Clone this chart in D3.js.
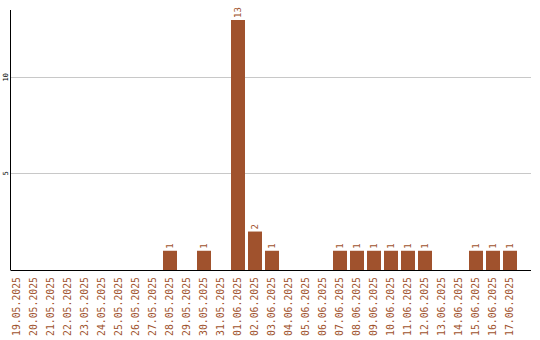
<!DOCTYPE html>
<html>
<head>
<meta charset="utf-8">
<script src="https://cdn.jsdelivr.net/npm/d3@7"></script>
<style>
  body { margin: 0; background: #fff; }
  svg { display: block; }
</style>
</head>
<body>
<svg id="chart"></svg>
<script>
const dates = ["19.05.2025", "20.05.2025", "21.05.2025", "22.05.2025", "23.05.2025",
    "24.05.2025", "25.05.2025", "26.05.2025", "27.05.2025", "28.05.2025",
    "29.05.2025", "30.05.2025", "31.05.2025", "01.06.2025", "02.06.2025",
    "03.06.2025", "04.06.2025", "05.06.2025", "06.06.2025", "07.06.2025",
    "08.06.2025", "09.06.2025", "10.06.2025", "11.06.2025", "12.06.2025",
    "13.06.2025", "14.06.2025", "15.06.2025", "16.06.2025", "17.06.2025"];
const counts = [0, 0, 0, 0, 0, 0, 0, 0, 0, 1,
    0, 1, 0, 13, 2, 1, 0, 0, 0, 1,
    1, 1, 1, 1, 1, 0, 0, 1, 1, 1];
const yTicks = [5, 10];

function drawChart() {
    const width = 540;
    const height = 340;
    const left = 10.5, right = 531, top = 10, bottom = 270;
    const color = "#a0522d";
    const font = "'DejaVu Sans Mono', monospace";

    const data = dates.map((d, i) => ({ date: d, value: counts[i] }));

    const x = d3.scaleBand()
        .domain(dates)
        .range([8.5, 518.5])
        .paddingInner(3 / 17)
        .paddingOuter(1.5 / 17);

    const y = d3.scaleLinear()
        .domain([0, d3.max(counts) * 1.04])
        .range([bottom, top]);

    const svg = d3.select("#chart")
        .attr("width", width)
        .attr("height", height);

    // grid
    svg.append("g")
        .selectAll("line")
        .data(yTicks)
        .join("line")
        .attr("x1", left)
        .attr("x2", right)
        .attr("y1", d => Math.floor(y(d)) + 0.5)
        .attr("y2", d => Math.floor(y(d)) + 0.5)
        .attr("stroke", "#c8c8c8")
        .attr("stroke-width", 1);

    // y tick labels
    svg.append("g")
        .selectAll("text")
        .data(yTicks)
        .join("text")
        .attr("transform", d => `translate(6,${y(d) - 0.5}) rotate(-90)`)
        .attr("text-anchor", "middle")
        .attr("dy", "0.35em")
        .style("font", `7px ${font}`)
        .attr("fill", "#000")
        .text(d => d);

    // bars
    svg.append("g")
        .selectAll("rect")
        .data(data.filter(d => d.value > 0))
        .join("rect")
        .attr("x", d => x(d.date))
        .attr("y", d => y(d.value))
        .attr("width", x.bandwidth())
        .attr("height", d => y(0) - y(d.value))
        .attr("fill", color);

    // value labels
    svg.append("g")
        .selectAll("text")
        .data(data.filter(d => d.value > 0))
        .join("text")
        .attr("transform", d => `translate(${x(d.date) + x.bandwidth() / 2},${y(d.value) - 2}) rotate(-90)`)
        .attr("dy", "0.35em")
        .style("font", `9px ${font}`)
        .attr("fill", color)
        .text(d => d.value);

    // axes lines
    svg.append("line")
        .attr("x1", left).attr("x2", left)
        .attr("y1", top).attr("y2", bottom)
        .attr("stroke", "#000");
    svg.append("line")
        .attr("x1", left).attr("x2", right)
        .attr("y1", bottom + 0.5).attr("y2", bottom + 0.5)
        .attr("stroke", "#000");

    // x labels
    svg.append("g")
        .selectAll("text")
        .data(dates)
        .join("text")
        .attr("transform", d => `translate(${x(d) + x.bandwidth() / 2},${bottom + 7}) rotate(-90)`)
        .attr("text-anchor", "end")
        .attr("dy", "0.35em")
        .style("font", `9.8px ${font}`)
        .attr("fill", color)
        .text(d => d);
}

drawChart();
</script>
</body>
</html>
